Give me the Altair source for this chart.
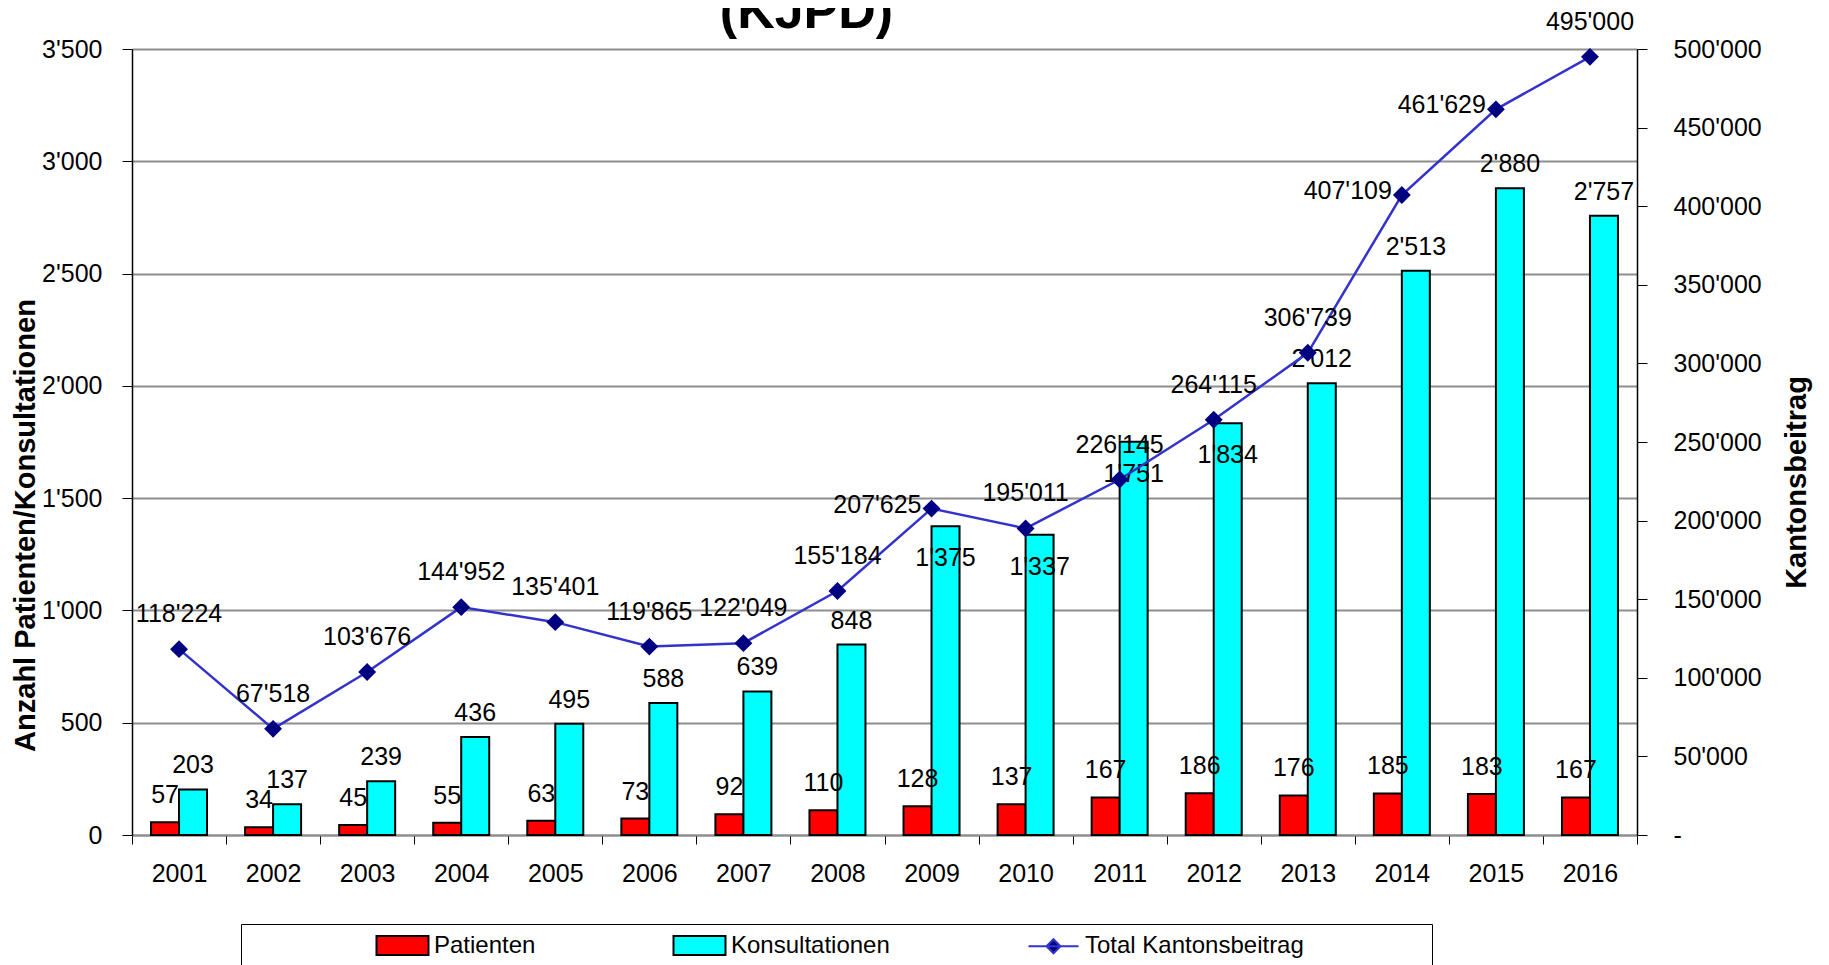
import altair as alt
import pandas as pd

# ---------------- data ----------------
years = ["2001", "2002", "2003", "2004", "2005", "2006", "2007", "2008",
         "2009", "2010", "2011", "2012", "2013", "2014", "2015", "2016"]
patienten = [57, 34, 45, 55, 63, 73, 92, 110, 128, 137, 167, 186, 176, 185, 183, 167]
konsultationen = [203, 137, 239, 436, 495, 588, 639, 848, 1375, 1337, 1751, 1834,
                  2012, 2513, 2880, 2757]
kantonsbeitrag = [118224, 67518, 103676, 144952, 135401, 119865, 122049, 155184,
                  207625, 195011, 226145, 264115, 306739, 407109, 461629, 495000]
series = ["Patienten", "Konsultationen", "Total Kantonsbeitrag"]
series_colors = ["#FF0000", "#00FFFF", "#000080"]
left_ticks = [0, 500, 1000, 1500, 2000, 2500, 3000, 3500]
right_ticks = [0, 50000, 100000, 150000, 200000, 250000, 300000, 350000, 400000,
               450000, 500000]

bars_df = pd.DataFrame({
    "Jahr": years * 2,
    "Serie": [series[0]] * len(years) + [series[1]] * len(years),
    "Wert": patienten + konsultationen,
    "Beitrag": kantonsbeitrag * 2,
})
line_df = pd.DataFrame({
    "Jahr": years,
    "Serie": [series[2]] * len(years),
    "Beitrag": kantonsbeitrag,
})

# ---------------- style ----------------
FONT = "Liberation Sans, Arial, sans-serif"
LINE_BLUE = "#3333CC"
GRID = "#8E8E8E"
FS = 25
APOS = "replace(format(datum.value, ','), ',', \"'\")"

x_enc = alt.X(
    "Jahr:N",
    sort=years,
    scale=alt.Scale(paddingInner=0, paddingOuter=0),
    axis=alt.Axis(
        title=None, labelAngle=0, labelFont=FONT, labelFontSize=FS,
        labelColor="black", labelPadding=17, tickBand="extent", tickSize=9,
        tickColor="black", tickWidth=1, domainColor=GRID, domainWidth=2,
    ),
)

left_axis = alt.Axis(
    values=left_ticks, labelExpr=APOS, labelFont=FONT, labelFontSize=FS,
    labelColor="black", labelPadding=20, tickColor="black", tickSize=10,
    domainColor="black", domainWidth=1.5, grid=True, gridColor=GRID, gridWidth=2,
    title="Anzahl Patienten/Konsultationen", titleFont=FONT,
    titleFontWeight="bold", titleFontSize=29, titleColor="black",
    titleAngle=270, titleX=-107, titleY=476, titleAlign="center",
    titleBaseline="middle",
)
right_axis = alt.Axis(
    orient="right", values=right_ticks,
    labelExpr="datum.value == 0 ? '-' : " + APOS,
    labelFont=FONT, labelFontSize=FS, labelColor="black", labelPadding=26,
    tickColor="black", tickSize=10, domainColor="black", domainWidth=1.5,
    grid=False, title="Kantonsbeitrag", titleFont=FONT,
    titleFontWeight="bold", titleFontSize=29, titleColor="black",
    titleAngle=270, titleX=159, titleY=433, titleAlign="center",
    titleBaseline="middle",
)

y_left = alt.Y("Wert:Q", scale=alt.Scale(domain=[0, 3500], nice=False), axis=left_axis)
y_right = alt.Y("Beitrag:Q", scale=alt.Scale(domain=[0, 500000], nice=False), axis=right_axis)
xoff = alt.XOffset("Serie:N", sort=series[:2],
                   scale=alt.Scale(domain=series[:2], paddingInner=0, paddingOuter=0.68))

rect_path = "M-2.08,-0.76H2.08V0.76H-2.08Z"
line_path = "M-2,0H2M0,-0.56L0.56,0L0,0.56L-0.56,0Z"
is_line = "datum.value === 'Total Kantonsbeitrag'"
# non-breaking spaces closed by a zero-width space, so the padding is not trimmed
pad_right = "\u00a0" * 18 + "\u200b"

legend = alt.Legend(
    title=None, orient="none", legendX=109, legendY=875, direction="horizontal",
    columns=3, columnPadding=10, padding=8, strokeColor="black", fillColor="white",
    symbolSize=625, symbolOffset=140, labelOffset=18,
    symbolType={"expr": is_line + " ? '" + line_path + "' : '" + rect_path + "'"},
    symbolStrokeColor={"expr": is_line + " ? '" + LINE_BLUE + "' : 'black'"},
    symbolStrokeWidth=2, symbolOpacity=1,
    labelFont=FONT, labelFontSize=24, labelColor="black", labelLimit=1000,
    labelExpr="datum.label === 'Total Kantonsbeitrag' ? datum.label + '" + pad_right + "' : datum.label",
)
color_enc = alt.Color("Serie:N", scale=alt.Scale(domain=series, range=series_colors),
                      legend=legend)

base_bars = alt.Chart(bars_df)
bars = base_bars.mark_bar(stroke="black", strokeWidth=2).encode(
    x=x_enc, xOffset=xoff, y=y_left, color=color_enc)

label_calc = base_bars.transform_calculate(
    lab="replace(format(datum.Wert, ','), ',', \"'\")",
    below="datum.Serie === 'Konsultationen' && (datum.Beitrag / 500000 - datum.Wert / 3500) > -0.06"
          " && (datum.Beitrag / 500000 - datum.Wert / 3500) < 0.025",
)
red_text = label_calc.transform_filter("datum.Serie === 'Patienten'").mark_text(
    font=FONT, fontSize=FS, color="black", baseline="alphabetic", dy=-19
).encode(x=x_enc, xOffset=xoff, y=y_left, text="lab:N")
cyan_above = label_calc.transform_filter(
    "datum.Serie === 'Konsultationen' && !datum.below").mark_text(
    font=FONT, fontSize=FS, color="black", baseline="alphabetic", dy=-16
).encode(x=x_enc, xOffset=xoff, y=y_left, text="lab:N")
cyan_below = label_calc.transform_filter("datum.below").mark_text(
    font=FONT, fontSize=FS, color="black", baseline="middle", dy=32
).encode(x=x_enc, xOffset=xoff, y=y_left, text="lab:N")

base_line = alt.Chart(line_df)
line = base_line.mark_line(color=LINE_BLUE, strokeWidth=2.5).encode(x=x_enc, y=y_right)
points = base_line.mark_point(shape="diamond", filled=True, size=320, opacity=1).encode(
    x=x_enc, y=y_right, color=color_enc)

line_lab = base_line.transform_window(
    prev="lag(Beitrag)", sort=[alt.SortField("Jahr")]
).transform_calculate(
    lab="replace(format(datum.Beitrag, ','), ',', \"'\")",
    steep="datum.prev != null && datum.Beitrag - datum.prev > 50000",
)
line_text = line_lab.transform_filter("!datum.steep").mark_text(
    font=FONT, fontSize=FS, color="black", baseline="middle", dy=-35
).encode(x=x_enc, y=y_right, text="lab:N")
line_text_left = line_lab.transform_filter("datum.steep").mark_text(
    font=FONT, fontSize=FS, color="black", baseline="middle", align="right",
    dx=-10, dy=-4
).encode(x=x_enc, y=y_right, text="lab:N")

left_layer = alt.layer(bars, red_text, cyan_above, cyan_below)
right_layer = alt.layer(line, points, line_text, line_text_left)

chart = alt.layer(left_layer, right_layer).resolve_scale(y="independent").properties(
    width=1505, height=786,
    autosize=alt.AutoSizeParams(type="none"),
    padding={"left": 124, "top": 41, "right": 184, "bottom": 150},
    title=alt.TitleParams(text="(KJPD)", font=FONT, fontSize=52, fontWeight="bold",
                          color="black", anchor="middle", frame="group",
                          baseline="alphabetic", offset=-70, dx=-78),
).configure_view(strokeWidth=0).configure(background="white")

chart.save("out.html", embed_options={"renderer": "svg", "actions": False})
